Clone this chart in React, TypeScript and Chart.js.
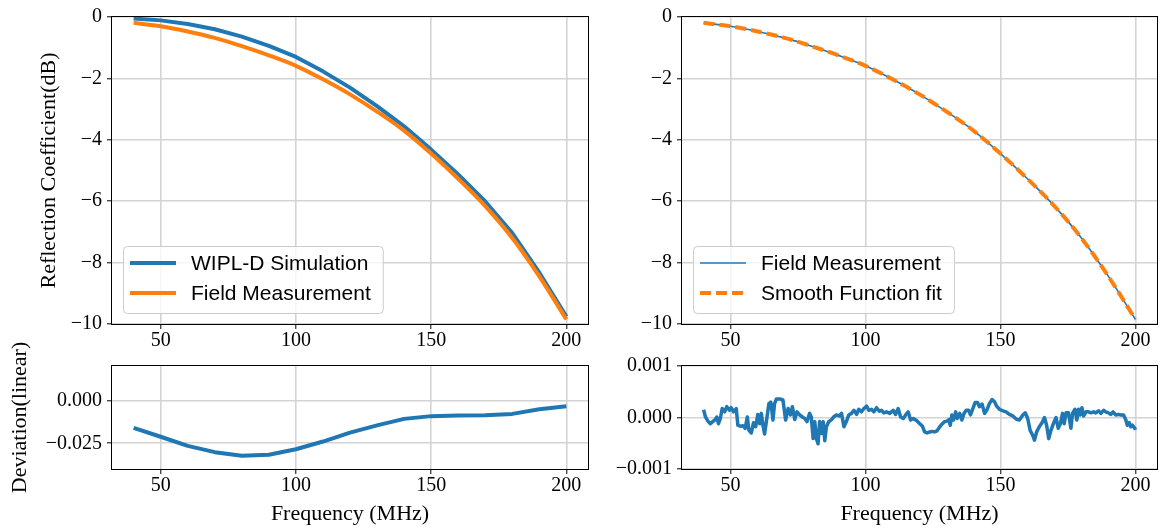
import React, { useEffect, useRef } from 'react';
import { Chart, registerables } from 'chart.js';

Chart.register(...registerables);

// ---------------- data ----------------
const simFreq = [40, 50, 60, 70, 80, 90, 100, 110, 120, 130, 140, 150, 160, 170, 180, 190, 200];
const simDb = [-0.05, -0.11, -0.23, -0.4, -0.64, -0.94, -1.3, -1.77, -2.3, -2.9, -3.56, -4.32, -5.13, -6.01, -7.04, -8.33, -9.76];

const measFreq = [40, 50, 60, 70, 80, 90, 100, 110, 120, 130, 140, 150, 160, 170, 180, 190, 200];
const measDb = [-0.19, -0.3, -0.47, -0.68, -0.95, -1.25, -1.59, -2.03, -2.52, -3.08, -3.7, -4.45, -5.27, -6.16, -7.2, -8.45, -9.85];

const fitFreq = [40, 50, 60, 70, 80, 90, 100, 110, 120, 130, 140, 150, 160, 170, 180, 190, 200];
const fitDb = [-0.19, -0.3, -0.47, -0.68, -0.95, -1.25, -1.59, -2.03, -2.52, -3.08, -3.7, -4.45, -5.27, -6.16, -7.2, -8.45, -9.85];

const devFreq = [40, 50, 60, 70, 80, 90, 100, 110, 120, 130, 140, 150, 160, 170, 180, 190, 200];
const devLinear = [-0.016, -0.0212, -0.0265, -0.0302, -0.0323, -0.0317, -0.0285, -0.024, -0.0188, -0.0146, -0.0108, -0.0092, -0.0088, -0.0087, -0.0079, -0.0052, -0.0035];

const resFreq = [
  40.0, 40.7, 41.6, 42.5, 43.4, 44.3, 44.9, 45.5, 46.2, 46.9, 47.8, 48.6, 49.6, 50.2, 51.1, 52.1, 52.7, 53.6, 54.6, 55.4,
  56.2, 56.8, 57.7, 58.5, 59.3, 60.1, 60.8, 61.4, 62.0, 62.6, 63.5, 64.2, 64.9, 65.7, 66.3, 67.0, 68.2, 69.4, 70.4, 71.3,
  72.2, 72.9, 73.8, 74.6, 75.6, 76.6, 77.5, 78.3, 79.3, 79.9, 80.6, 81.2, 81.8, 82.4, 83.0, 83.7, 84.3, 84.9, 85.5, 86.4,
  87.4, 88.2, 89.2, 90.2, 91.1, 92.0, 92.9, 93.8, 94.8, 95.7, 96.7, 97.5, 98.5, 99.4, 100.4, 101.2, 102.2, 103.1, 104.1, 105.1,
  105.9, 106.8, 107.8, 109.0, 110.3, 111.1, 112.1, 113.0, 114.0, 115.0, 115.8, 116.7, 117.7, 118.9, 120.1, 121.1, 121.9, 122.8, 123.8, 124.8,
  125.6, 126.5, 127.5, 128.3, 129.3, 130.2, 130.9, 131.4, 132.0, 132.6, 133.4, 134.0, 134.9, 135.7, 136.5, 137.3, 138.2, 138.9, 139.8, 140.6,
  141.5, 142.2, 143.2, 144.1, 144.9, 145.9, 146.9, 147.8, 148.6, 149.6, 150.9, 152.1, 153.3, 154.6, 155.8, 157.0, 158.3, 159.2, 160.1, 161.0,
  161.9, 162.6, 163.4, 164.4, 165.4, 166.3, 167.1, 167.9, 168.7, 169.6, 170.6, 171.4, 172.2, 173.0, 173.6, 174.3, 175.2, 176.1, 176.7, 177.6,
  178.3, 178.9, 179.6, 180.2, 180.8, 181.7, 182.6, 183.5, 184.5, 185.3, 186.3, 187.2, 188.2, 189.0, 190.0, 190.9, 191.7, 192.7, 193.7, 194.6,
  195.6, 196.4, 197.0, 197.7, 198.3, 198.9, 199.8, 200.0,
];
const resValue = [
  1.5e-4, 0.1e-4, -0.7e-4, -1.2e-4, -0.8e-4, -0.4e-4, 0.1e-4, -1.2e-4, -0.2e-4, 1.75e-4, 1.1e-4, 2.1e-4, 1.4e-4, 1.9e-4, 1.1e-4, 1.75e-4, -1.5e-4, -1.7e-4, -1.6e-4, -2.1e-4,
  0.1e-4, -2.5e-4, -3.0e-4, -1.0e-4, -1.8e-4, 0.6e-4, -1.2e-4, 0.8e-4, -1.5e-4, -3.2e-4, 0.1e-4, 2.7e-4, 3.0e-4, -0.5e-4, 2.7e-4, 3.6e-4, 3.6e-4, 3.4e-4, -0.5e-4, 1.75e-4,
  0.5e-4, 2.1e-4, -0.4e-4, 1.1e-4, 0.5e-4, 0.1e-4, -0.2e-4, -0.8e-4, 0.8e-4, 0.1e-4, -4.1e-4, -0.8e-4, -4.1e-4, -5.1e-4, -0.8e-4, -3.1e-4, -0.8e-4, -4.5e-4, -1.8e-4, -0.8e-4,
  -0.4e-4, 0.1e-4, 0.5e-4, 0.3e-4, 0.8e-4, -1.8e-4, -0.8e-4, 0.5e-4, 0.8e-4, 1.4e-4, 0.6e-4, 1.6e-4, 1.1e-4, 1.75e-4, 2.2e-4, 1.4e-4, 1.6e-4, 1.1e-4, 1.9e-4, 1.2e-4,
  1.4e-4, 0.9e-4, 1.1e-4, 0.8e-4, 1.4e-4, 0.6e-4, 1.75e-4, 0.1e-4, -0.2e-4, 0.6e-4, 1.1e-4, -0.5e-4, -0.2e-4, -0.6e-4, -1.2e-4, -1.7e-4, -2.8e-4, -3.0e-4, -2.8e-4, -2.7e-4,
  -2.8e-4, -2.6e-4, -1.8e-4, -1.3e-4, -0.8e-4, -0.7e-4, -0.4e-4, -1.5e-4, 0.5e-4, -0.5e-4, 1.1e-4, -0.2e-4, 0.8e-4, -0.5e-4, 0.8e-4, 1.4e-4, 1.4e-4, 0.5e-4, 1.75e-4, 2.9e-4,
  2.9e-4, 2.1e-4, 2.6e-4, 0.8e-4, 1.4e-4, 2.7e-4, 3.5e-4, 3.05e-4, 2.2e-4, 1.6e-4, 1.3e-4, 1.1e-4, 0.6e-4, 0.3e-4, -0.3e-4, -0.5e-4, 0.5e-4, 0.9e-4, -0.2e-4, -2.5e-4,
  -3.4e-4, -4.4e-4, -2.8e-4, -1.8e-4, -1.0e-4, 0.0, -1.5e-4, -4.1e-4, -2.5e-4, -1.2e-4, 0.0, -2.1e-4, -1.2e-4, 0.8e-4, -1.2e-4, 0.9e-4, 0.9e-4, -2.1e-4, 0.8e-4, 1.6e-4,
  -0.5e-4, 1.6e-4, 0.5e-4, 1.9e-4, 0.3e-4, 1.1e-4, 1.1e-4, 0.9e-4, 1.1e-4, 0.9e-4, 1.3e-4, 0.8e-4, 1.4e-4, 1.1e-4, 0.9e-4, 0.6e-4, 1.1e-4, 0.5e-4, 0.6e-4, 0.5e-4,
  0.5e-4, -0.4e-4, -1.5e-4, -1.0e-4, -1.8e-4, -1.5e-4, -2.1e-4, -2.4e-4,
];

const xTicks = [50, 100, 150, 200];
const dbTicks = [-10, -8, -6, -4, -2, 0];
const devTicks = [-0.025, 0];
const resTicks = [-0.001, 0, 0.001];

const BLUE = '#1f77b4';
const ORANGE = '#ff7f0e';
const GRID = '#d3d3d3';
const SERIF = '"Liberation Serif", "Times New Roman", serif';
const SANS = '"Liberation Sans", Arial, sans-serif';

const pts = (xs: number[], ys: number[]) => xs.map((x, i) => ({ x, y: ys[i] }));
const fmt = (digits: number) => (v: number) => {
  const s = Math.abs(v).toFixed(digits);
  return (v < -1e-12 ? '\u2212' : '') + s;
};

// ---------------- plugins ----------------
const spinePlugin = {
  id: 'spines',
  afterDatasetsDraw(chart: any) {
    const { ctx, chartArea: a } = chart;
    ctx.save();
    ctx.strokeStyle = '#000';
    ctx.lineWidth = 1;
    ctx.strokeRect(Math.round(a.left) - 0.5, Math.round(a.top) - 0.5, Math.round(a.right - a.left) + 1, Math.round(a.bottom - a.top) + 1);
    ctx.restore();
  },
};

const legendPlugin = {
  id: 'boxLegend',
  afterDraw(chart: any, _args: any, opts: any) {
    const items = opts && opts.items;
    if (!items || !items.length) return;
    const { ctx, chartArea: a } = chart;
    ctx.save();
    ctx.font = `21px ${SANS}`;
    let maxW = 0;
    for (const it of items) maxW = Math.max(maxW, ctx.measureText(it.label).width);
    const x0 = Math.round(a.left) + 11;
    const y1 = Math.round(a.bottom) - 11;
    const h = 67;
    const w = 68 + maxW + 12;
    const y0 = y1 - h;
    ctx.beginPath();
    (ctx as any).roundRect(x0 + 0.5, y0 + 0.5, w, h, 4);
    ctx.fillStyle = 'rgba(255,255,255,0.8)';
    ctx.fill();
    ctx.strokeStyle = '#cccccc';
    ctx.lineWidth = 1;
    ctx.stroke();
    items.forEach((it: any, i: number) => {
      const cy = y0 + 17 + i * 30;
      ctx.beginPath();
      ctx.setLineDash(it.dash || []);
      ctx.strokeStyle = it.color;
      ctx.lineWidth = it.width;
      ctx.lineCap = 'butt';
      ctx.moveTo(x0 + 7, cy);
      ctx.lineTo(x0 + 53, cy);
      ctx.stroke();
      ctx.setLineDash([]);
      ctx.fillStyle = '#000';
      ctx.textBaseline = 'middle';
      ctx.textAlign = 'left';
      ctx.fillText(it.label, x0 + 68, cy + 1);
    });
    ctx.restore();
  },
};

// ---------------- chart config builder ----------------
type PanelCfg = {
  datasets: any[];
  yMin: number;
  yMax: number;
  yTicks: number[];
  yDigits: number;
  yWidth: number;
  yTitle?: string;
  yTitleX?: number;
  xTitle?: string;
  padTop: number;
  padRight: number;
  xHeight: number;
  legend?: any[];
};

function buildConfig(c: PanelCfg): any {
  const tickFont = { family: SERIF, size: 20 };
  const titleFont = { family: SERIF, size: 22 };
  return {
    type: 'line',
    data: { datasets: c.datasets },
    plugins: [spinePlugin, legendPlugin],
    options: {
      animation: false,
      responsive: false,
      events: [],
      layout: { padding: { top: c.padTop, right: c.padRight, left: 0, bottom: 0 } },
      plugins: {
        legend: { display: false },
        tooltip: { enabled: false },
        boxLegend: { items: c.legend || [] },
      },
      elements: { point: { radius: 0 } },
      scales: {
        x: {
          type: 'linear',
          min: 32,
          max: 208,
          afterBuildTicks: (s: any) => {
            s.ticks = xTicks.map((v) => ({ value: v }));
          },
          afterFit: (s: any) => {
            s.height = c.xHeight;
          },
          grid: { color: GRID, lineWidth: 1.6, drawTicks: true, tickLength: 5, tickColor: '#000', tickWidth: 1 },
          border: { display: false },
          ticks: {
            font: tickFont,
            color: '#000',
            padding: 0,
            autoSkip: false,
            maxRotation: 0,
            minRotation: 0,
            callback: (v: number) => String(v),
          },
          title: c.xTitle
            ? { display: true, text: c.xTitle, font: titleFont, color: '#000', padding: { top: 0, bottom: 2 } }
            : { display: false },
        },
        y: {
          type: 'linear',
          min: c.yMin,
          max: c.yMax,
          afterBuildTicks: (s: any) => {
            s.ticks = c.yTicks.map((v) => ({ value: v }));
          },
          afterFit: (s: any) => {
            s.width = c.yWidth;
          },
          grid: { color: GRID, lineWidth: 1.6, drawTicks: true, tickLength: 5, tickColor: '#000', tickWidth: 1 },
          border: { display: false },
          ticks: {
            font: tickFont,
            color: '#000',
            padding: 5,
            autoSkip: false,
            callback: fmt(c.yDigits),
          },
          title: c.yTitle
            ? { display: true, text: c.yTitle, font: titleFont, color: '#000', padding: { top: (c.yTitleX || 0) - 13.2, bottom: 0 } }
            : { display: false },
        },
      },
    },
  };
}

const lineDefaults = {
  pointRadius: 0,
  fill: false,
  borderJoinStyle: 'round',
  borderCapStyle: 'butt',
};

const topLeftCfg: PanelCfg = {
  datasets: [
    { ...lineDefaults, label: 'WIPL-D Simulation', data: pts(simFreq, simDb), borderColor: BLUE, borderWidth: 4, tension: 0, order: 1 },
    { ...lineDefaults, label: 'Field Measurement', data: pts(measFreq, measDb), borderColor: ORANGE, borderWidth: 4, cubicInterpolationMode: 'monotone', order: 0 },
  ],
  yMin: -10,
  yMax: 0,
  yTicks: dbTicks,
  yDigits: 0,
  yWidth: 112,
  yTitle: 'Reflection Coefficient(dB)',
  yTitleX: 49,
  padTop: 14,
  padRight: 12,
  xHeight: 26,
  legend: [
    { label: 'WIPL-D Simulation', color: BLUE, width: 4 },
    { label: 'Field Measurement', color: ORANGE, width: 4 },
  ],
};

const topRightCfg: PanelCfg = {
  datasets: [
    { ...lineDefaults, label: 'Field Measurement', data: pts(measFreq, measDb), borderColor: BLUE, borderWidth: 1.6, cubicInterpolationMode: 'monotone', order: 1 },
    { ...lineDefaults, label: 'Smooth Function fit', data: pts(fitFreq, fitDb), borderColor: ORANGE, borderWidth: 4, borderDash: [11, 5], cubicInterpolationMode: 'monotone', order: 0 },
  ],
  yMin: -10,
  yMax: 0,
  yTicks: dbTicks,
  yDigits: 0,
  yWidth: 82,
  padTop: 14,
  padRight: 4,
  xHeight: 26,
  legend: [
    { label: 'Field Measurement', color: BLUE, width: 1.6 },
    { label: 'Smooth Function fit', color: ORANGE, width: 4, dash: [11, 5] },
  ],
};

const bottomLeftCfg: PanelCfg = {
  datasets: [
    { ...lineDefaults, label: 'Deviation', data: pts(devFreq, devLinear), borderColor: BLUE, borderWidth: 4, tension: 0 },
  ],
  yMin: -0.04,
  yMax: 0.02,
  yTicks: devTicks,
  yDigits: 3,
  yWidth: 112,
  yTitle: 'Deviation(linear)',
  yTitleX: 20,
  xTitle: 'Frequency (MHz)',
  padTop: 36,
  padRight: 12,
  xHeight: 60,
};

const bottomRightCfg: PanelCfg = {
  datasets: [
    { ...lineDefaults, label: 'Residual', data: pts(resFreq, resValue), borderColor: BLUE, borderWidth: 3.5, tension: 0 },
  ],
  yMin: -0.001,
  yMax: 0.001,
  yTicks: resTicks,
  yDigits: 3,
  yWidth: 82,
  xTitle: 'Frequency (MHz)',
  padTop: 36,
  padRight: 4,
  xHeight: 60,
};

function Panel(props: { left: number; top: number; width: number; height: number; cfg: PanelCfg }) {
  const ref = useRef<HTMLCanvasElement | null>(null);
  useEffect(() => {
    if (!ref.current) return;
    const chart = new Chart(ref.current, buildConfig(props.cfg));
    return () => chart.destroy();
  }, []);
  return (
    <canvas
      ref={ref}
      width={props.width}
      height={props.height}
      style={{ position: 'absolute', left: props.left, top: props.top, width: props.width, height: props.height }}
    />
  );
}

export default function App() {
  return (
    <div style={{ position: 'absolute', left: 0, top: 0, width: 1161, height: 529, background: '#fff', overflow: 'hidden' }}>
      <Panel left={0} top={0} width={600} height={350} cfg={topLeftCfg} />
      <Panel left={600} top={0} width={561} height={350} cfg={topRightCfg} />
      <Panel left={0} top={330} width={600} height={199} cfg={bottomLeftCfg} />
      <Panel left={600} top={330} width={561} height={199} cfg={bottomRightCfg} />
    </div>
  );
}
